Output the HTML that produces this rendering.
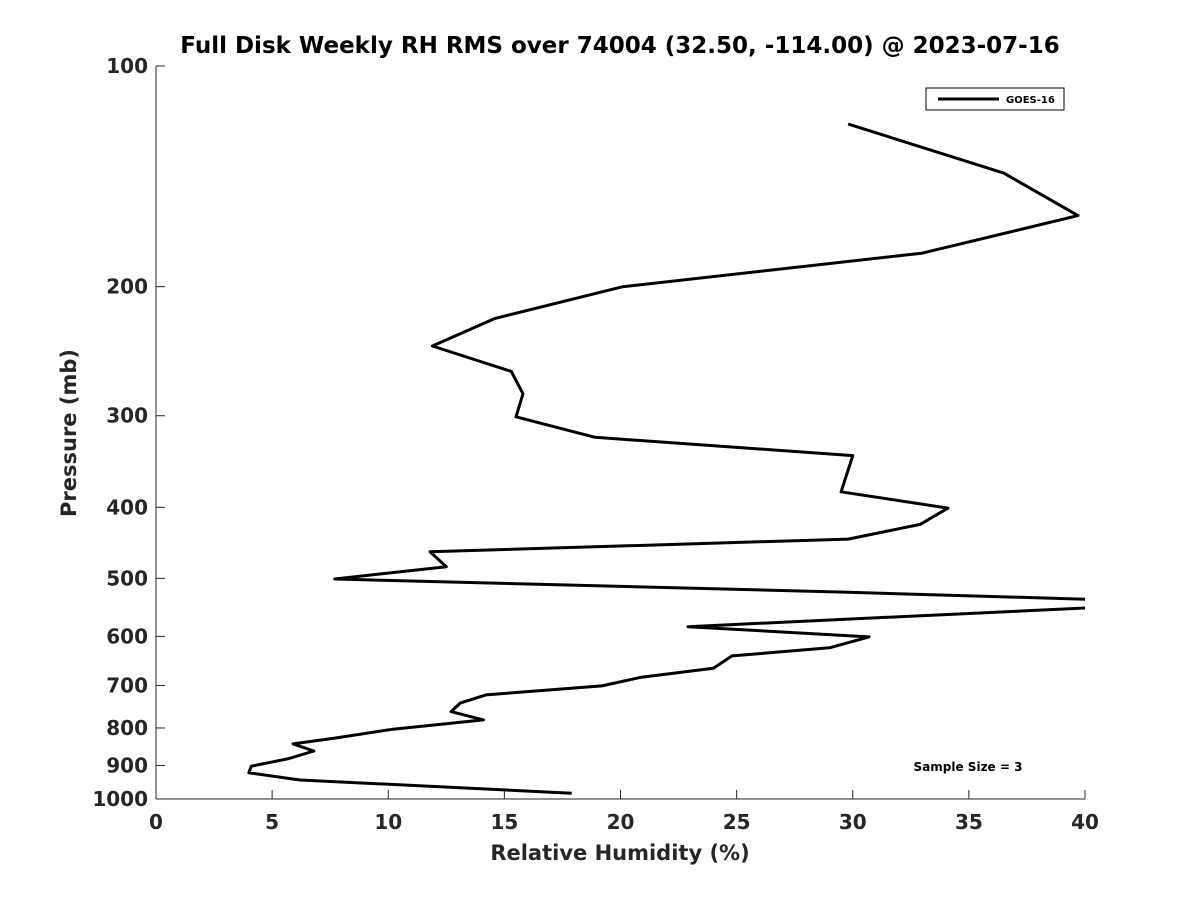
<!DOCTYPE html>
<html><head><meta charset="utf-8"><style>
body{margin:0;background:#fff}
svg text{font-family:"DejaVu Sans","Liberation Sans",sans-serif;font-weight:bold;fill:#262626}
</style></head><body>
<svg id="chart" width="1200" height="900" xmlns="http://www.w3.org/2000/svg">
<rect width="1200" height="900" fill="#fff"/>
<defs><clipPath id="pc"><rect x="156" y="66" width="929" height="733"/></clipPath></defs>
<text x="620" y="53" font-size="23" text-anchor="middle" style="fill:#000">Full Disk Weekly RH RMS over 74004 (32.50, -114.00) @ 2023-07-16</text>
<g id="axes"></g>
<text x="620" y="860" font-size="21" text-anchor="middle">Relative Humidity (%)</text>
<text x="76" y="433" font-size="21" text-anchor="middle" transform="rotate(-90 76 433)">Pressure (mb)</text>
<g>
<rect x="926" y="88" width="138" height="22" fill="#fff" stroke="#000" stroke-width="1"/>
<line x1="938" y1="99" x2="999" y2="99" stroke="#000" stroke-width="3"/>
<text x="1006" y="103" font-size="10" style="fill:#000">GOES-16</text>
</g>
<text x="968" y="771" font-size="12" text-anchor="middle" style="fill:#000">Sample Size = 3</text>
</svg>
<script>
const xTicks=[0,5,10,15,20,25,30,35,40];
const yTicks=[100,200,300,400,500,600,700,800,900,1000];
const pressures=[120,140,160,180,200,221,241,261,280,301,321,340,381,401,422,442,460,482,501,522,535,547,582,601,622,638,663,682,701,721,740,760,780,803,826,841,860,881,902,921,942,982];
const rhRms=[29.8,36.5,39.7,33.0,20.1,14.6,11.9,15.3,15.8,15.5,18.9,30.0,29.5,34.1,32.9,29.8,11.8,12.5,7.7,29.6,41,41,22.9,30.7,29.0,24.8,24.0,20.9,19.2,14.2,13.1,12.7,14.1,10.2,7.7,5.9,6.8,5.7,4.1,4.0,6.2,17.9];
const X0=156,X1=1085,Y0=66,Y1=799;
const xs=v=>X0+(v-0)/(40-0)*(X1-X0);
const ys=p=>Y0+(Math.log10(p)-2)*(Y1-Y0);
const NS="http://www.w3.org/2000/svg";
const svg=document.getElementById('chart');
const ax=document.getElementById('axes');
function mk(t,a,p){const e=document.createElementNS(NS,t);for(const k in a)e.setAttribute(k,a[k]);(p||ax).appendChild(e);return e;}
let l=mk('line',{x1:X0,y1:Y0,x2:X0,y2:Y1,stroke:'#262626','stroke-width':1});


l=mk('line',{x1:X0,y1:Y1,x2:X1,y2:Y1,stroke:'#262626','stroke-width':1});


xTicks.forEach(v=>{const x=xs(v);
 mk('line',{x1:x,y1:Y1,x2:x,y2:Y1-9,stroke:'#262626'});
 const t=mk('text',{x:x,y:Y1+30,'font-size':20,'text-anchor':'middle'});t.textContent=v;
 
 });
yTicks.forEach(v=>{const y=ys(v);
 mk('line',{x1:X0,y1:y,x2:X0+9,y2:y,stroke:'#262626'});
 const t=mk('text',{x:X0-8,y:y+7,'font-size':20,'text-anchor':'end'});t.textContent=v;
 
 });
const pts=pressures.map((p,i)=>xs(rhRms[i]).toFixed(1)+','+ys(p).toFixed(1)).join(' ');
const line=mk('polyline',{points:pts,fill:'none',stroke:'#000','stroke-width':3,'stroke-linejoin':'round','clip-path':'url(#pc)'},svg);


</script>
</body></html>
